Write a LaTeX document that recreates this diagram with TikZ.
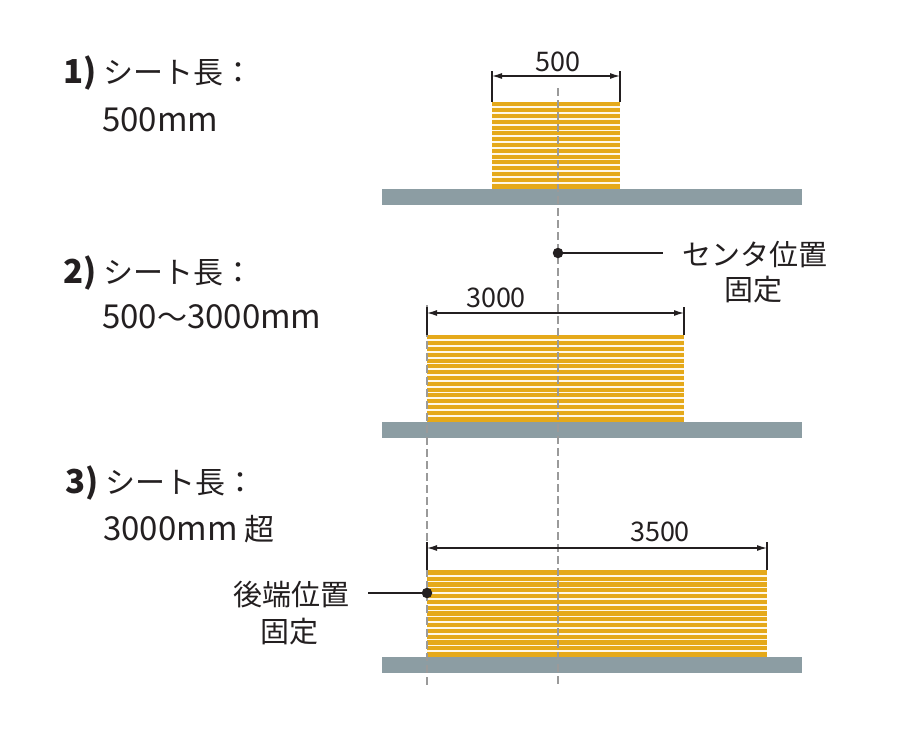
\documentclass[tikz,border=0pt]{standalone}
\usepackage{fontspec}
\setmainfont{Noto Sans CJK JP}
\usetikzlibrary{arrows.meta}
\definecolor{sheet}{HTML}{E5A91A}
\definecolor{gap}{HTML}{FFF8E8}
\definecolor{basecol}{HTML}{8C9DA3}
\definecolor{guide}{HTML}{9A9A9A}
\definecolor{ink}{HTML}{231F20}
\newcommand{\lat}[1]{{\fontsize{33}{36}\selectfont #1}}
\begin{document}
\begin{tikzpicture}[x=1pt,y=-1pt,
  lbl/.style={font=\fontsize{30}{36}\selectfont, text=ink, inner sep=0, anchor=base west},
  call/.style={font=\fontsize{29}{34}\selectfont, text=ink, inner sep=0},
  dimtxt/.style={font=\fontsize{27}{30}\selectfont, text=ink, inner sep=0},
  stack/.style={fill=sheet, inner sep=0, outer sep=0, anchor=south west, minimum height=87pt,
    path picture={\foreach \k in {1,...,14}
      \draw[gap, line width=1.7pt]
        ([yshift=-\k*5.8pt]path picture bounding box.north west) --
        ([yshift=-\k*5.8pt]path picture bounding box.north east);}},
  basebar/.style={fill=basecol, inner sep=0, outer sep=0, anchor=north west,
    minimum width=420pt, minimum height=15.5pt},
  guideline/.style={guide, line width=1.3pt, dash pattern=on 8pt off 4pt},
  dimline/.style={ink, line width=1.2pt, {Latex[length=10pt,width=6pt]}-{Latex[length=10pt,width=6pt]}},
  tick/.style={ink, line width=1.3pt},
  leader/.style={ink, line width=1.2pt},
  dot/.style={circle, fill=ink, inner sep=0, minimum size=10.5pt}]
\useasboundingbox (0,0) rectangle (900,742);

% sheet stacks
\node[stack, minimum width=128pt] (s1) at (492,188.5) {};
\node[stack, minimum width=257pt] (s2) at (427,421.5) {};
\node[stack, minimum width=340pt] (s3) at (427,657) {};

% base bars
\node[basebar] (b1) at (382,189) {};
\node[basebar] (b2) at (382,422) {};
\node[basebar] (b3) at (382,657) {};

% guide lines
\coordinate (c0) at (558,88);
\coordinate (c1) at (558,685);
\coordinate (l0) at (427,305);
\coordinate (l1) at (427,685);
\draw[guideline] (c0) -- (c1);
\draw[guideline] (l0) -- (l1);

% dimension 1
\coordinate (d1a) at (492,71);
\coordinate (d1b) at (620,71);
\coordinate (d1l) at (492,76);
\coordinate (d1r) at (620,76);
\draw[tick] (d1a) -- (s1.north west);
\draw[tick] (d1b) -- (s1.north east);
\draw[dimline] (d1l) -- (d1r);
\node[dimtxt] (t1) at (558,62) {500};

% dimension 2
\coordinate (d2a) at (427,307);
\coordinate (d2b) at (684,307);
\coordinate (d2l) at (427,313);
\coordinate (d2r) at (684,313);
\draw[tick] (d2a) -- (s2.north west);
\draw[tick] (d2b) -- (s2.north east);
\draw[dimline] (d2l) -- (d2r);
\node[dimtxt] (t2) at (496,298) {3000};

% dimension 3
\coordinate (d3a) at (427,542);
\coordinate (d3b) at (767,542);
\coordinate (d3l) at (427,548);
\coordinate (d3r) at (767,548);
\draw[tick] (d3a) -- (s3.north west);
\draw[tick] (d3b) -- (s3.north east);
\draw[dimline] (d3l) -- (d3r);
\node[dimtxt] (t3) at (660,532) {3500};

% center callout
\node[dot] (p1) at (558,253) {};
\coordinate (p1e) at (663,253);
\draw[leader] (p1.center) -- (p1e);
\node[call, anchor=west] (n1) at (682,255) {センタ位置};
\node[call] (n1b) at (753,290) {固定};

% rear-end callout
\node[dot] (p2) at (427,593) {};
\coordinate (p2e) at (368,593);
\draw[leader] (p2.center) -- (p2e);
\node[call, anchor=east] (n2) at (350,595) {後端位置};
\node[call] (n2b) at (289,632) {固定};

% case labels
\node[lbl] (h1) at (63,83) {\textbf{\lat{1)}} シート長：};
\node[lbl] (v1) at (102,131) {\lat{500mm}};
\node[lbl] (h2) at (63,283) {\textbf{\lat{2)}} シート長：};
\node[lbl] (v2) at (102,328) {\lat{500}〜\lat{3000mm}};
\node[lbl] (h3) at (65,493) {\textbf{\lat{3)}} シート長：};
\node[lbl] (v3) at (103,540) {\lat{3000mm} 超};
\end{tikzpicture}
\end{document}
